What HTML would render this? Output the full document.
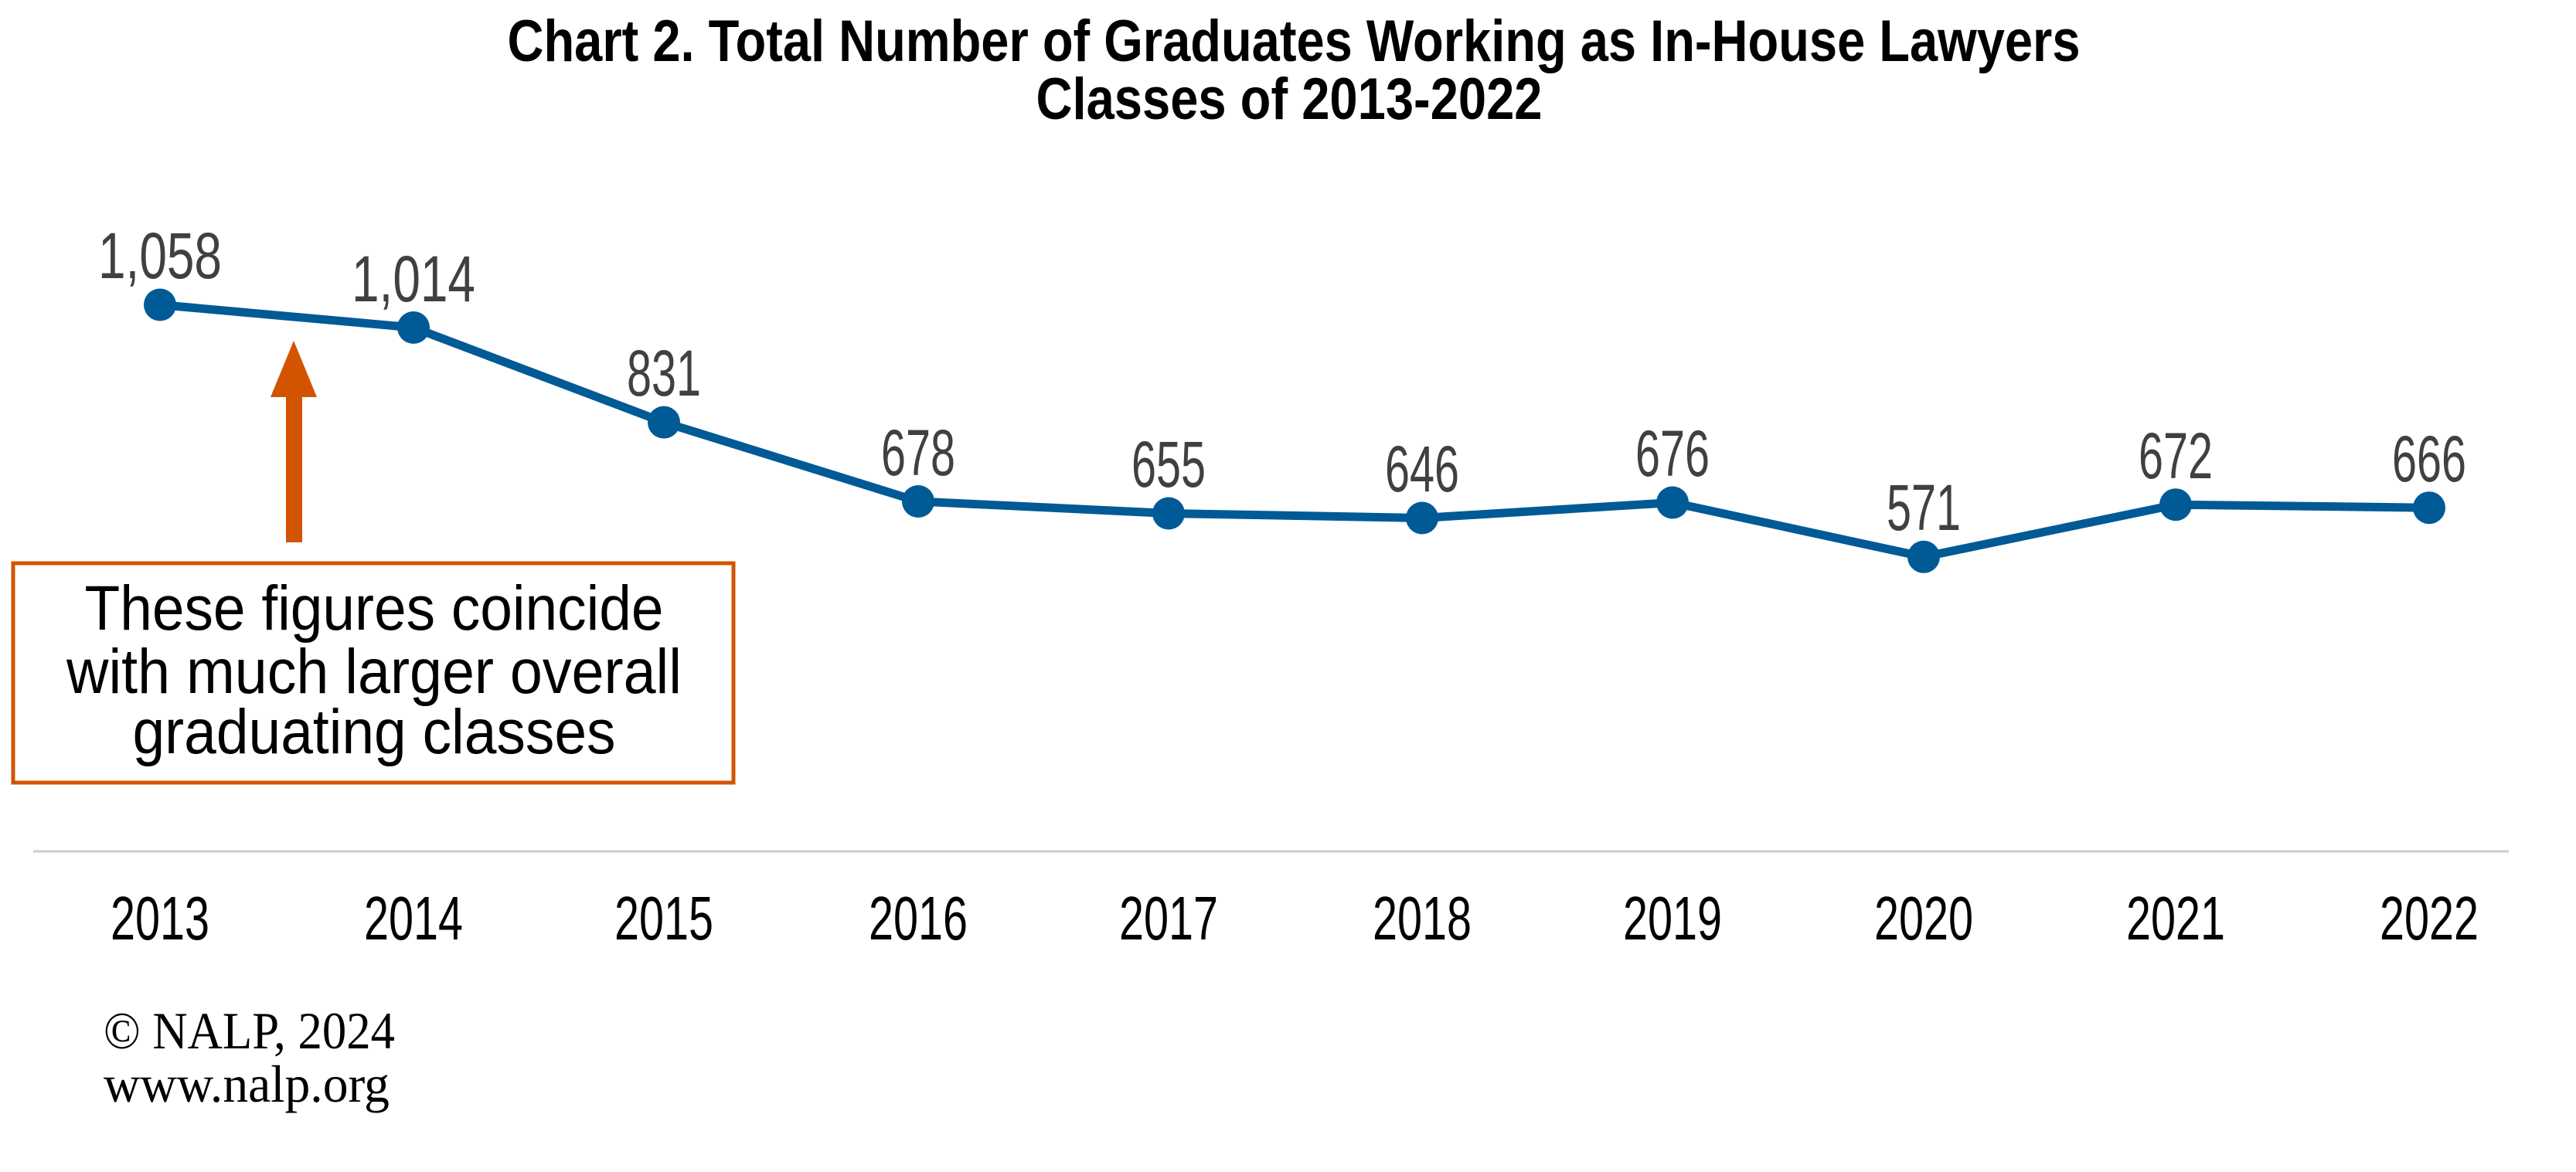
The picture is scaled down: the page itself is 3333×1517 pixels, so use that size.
<!DOCTYPE html>
<html><head><meta charset="utf-8"><style>html,body{margin:0;padding:0;background:#fff}svg{display:block}</style></head>
<body>
<svg width="3333" height="1517" viewBox="0 0 3333 1517" xmlns="http://www.w3.org/2000/svg">
<rect width="3333" height="1517" fill="#fff"/>
<g font-family="Liberation Sans, sans-serif" font-weight="bold" fill="#000" text-anchor="middle" font-size="76">
<text x="1674" y="79" textLength="2035" lengthAdjust="spacingAndGlyphs">Chart 2. Total Number of Graduates Working as In-House Lawyers</text>
<text x="1668" y="154" textLength="655" lengthAdjust="spacingAndGlyphs">Classes of 2013-2022</text>
</g>
<line x1="43" y1="1102" x2="3246" y2="1102" stroke="#cccccc" stroke-width="3"/>
<polyline fill="none" stroke="#005a96" stroke-width="11" stroke-linejoin="round" points="207,394.5 535,424 859,546.6 1188,649 1512,664.5 1840,670.5 2164,650.5 2489,720.8 2815,653.2 3143,657.2"/>
<g fill="#005a96">
<circle cx="207" cy="394.5" r="21"/><circle cx="535" cy="424" r="21"/><circle cx="859" cy="546.6" r="21"/><circle cx="1188" cy="649" r="21"/><circle cx="1512" cy="664.5" r="21"/><circle cx="1840" cy="670.5" r="21"/><circle cx="2164" cy="650.5" r="21"/><circle cx="2489" cy="720.8" r="21"/><circle cx="2815" cy="653.2" r="21"/><circle cx="3143" cy="657.2" r="21"/>
</g>
<g font-family="Liberation Sans, sans-serif" fill="#404040" text-anchor="middle" font-size="84">
<text x="207" y="360" textLength="160" lengthAdjust="spacingAndGlyphs">1,058</text>
<text x="535" y="390" textLength="160" lengthAdjust="spacingAndGlyphs">1,014</text>
<text x="859" y="512" textLength="96" lengthAdjust="spacingAndGlyphs">831</text>
<text x="1188" y="615" textLength="96" lengthAdjust="spacingAndGlyphs">678</text>
<text x="1512" y="630" textLength="96" lengthAdjust="spacingAndGlyphs">655</text>
<text x="1840" y="636" textLength="96" lengthAdjust="spacingAndGlyphs">646</text>
<text x="2164" y="616" textLength="96" lengthAdjust="spacingAndGlyphs">676</text>
<text x="2489" y="686" textLength="96" lengthAdjust="spacingAndGlyphs">571</text>
<text x="2815" y="619" textLength="96" lengthAdjust="spacingAndGlyphs">672</text>
<text x="3143" y="623" textLength="96" lengthAdjust="spacingAndGlyphs">666</text>
</g>
<g font-family="Liberation Sans, sans-serif" fill="#000" text-anchor="middle" font-size="80">
<text x="207" y="1216" textLength="128" lengthAdjust="spacingAndGlyphs">2013</text>
<text x="535" y="1216" textLength="128" lengthAdjust="spacingAndGlyphs">2014</text>
<text x="859" y="1216" textLength="128" lengthAdjust="spacingAndGlyphs">2015</text>
<text x="1188" y="1216" textLength="128" lengthAdjust="spacingAndGlyphs">2016</text>
<text x="1512" y="1216" textLength="128" lengthAdjust="spacingAndGlyphs">2017</text>
<text x="1840" y="1216" textLength="128" lengthAdjust="spacingAndGlyphs">2018</text>
<text x="2164" y="1216" textLength="128" lengthAdjust="spacingAndGlyphs">2019</text>
<text x="2489" y="1216" textLength="128" lengthAdjust="spacingAndGlyphs">2020</text>
<text x="2815" y="1216" textLength="128" lengthAdjust="spacingAndGlyphs">2021</text>
<text x="3143" y="1216" textLength="128" lengthAdjust="spacingAndGlyphs">2022</text>
</g>
<rect x="370" y="512" width="21" height="190" fill="#d35400"/>
<polygon points="380,441 350,514 410,514" fill="#d35400"/>
<rect x="17" y="729" width="932" height="284" fill="#fff" stroke="#d35400" stroke-width="5"/>
<g font-family="Liberation Sans, sans-serif" fill="#000" text-anchor="middle" font-size="82">
<text x="484" y="815" textLength="749" lengthAdjust="spacingAndGlyphs">These figures coincide</text>
<text x="484" y="897" textLength="796" lengthAdjust="spacingAndGlyphs">with much larger overall</text>
<text x="484" y="975" textLength="625" lengthAdjust="spacingAndGlyphs">graduating classes</text>
</g>
<g font-family="Liberation Serif, serif" fill="#000" font-size="68">
<text x="134" y="1357" textLength="377" lengthAdjust="spacingAndGlyphs">© NALP, 2024</text>
<text x="134" y="1426" textLength="370" lengthAdjust="spacingAndGlyphs">www.nalp.org</text>
</g>
</svg>
</body></html>
